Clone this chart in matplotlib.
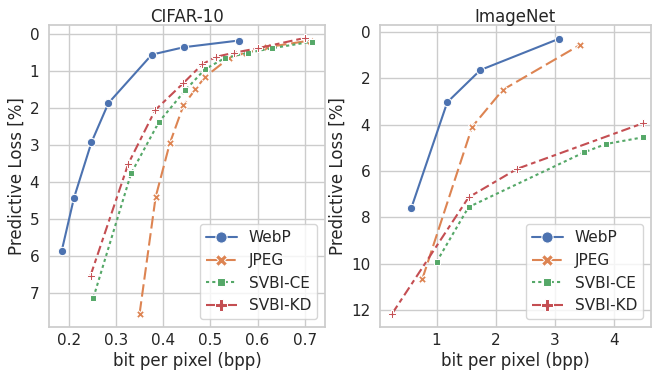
import numpy as np
import matplotlib
matplotlib.use("Agg")
import matplotlib.pyplot as plt
import seaborn as sns

sns.set_theme(style="whitegrid")
plt.rcParams.update({
    "xtick.major.size": 0, "xtick.major.pad": 4,
    "ytick.major.size": 0, "ytick.major.pad": 7,
})

methods = ["WebP", "JPEG", "SVBI-CE", "SVBI-KD"]

# CIFAR-10: bpp and predictive loss [%]
cifar_bpp = {
    "WebP": [0.185, 0.211, 0.248, 0.284, 0.376, 0.444, 0.560],
    "JPEG": [0.350, 0.384, 0.414, 0.443, 0.468, 0.489, 0.539, 0.575, 0.620, 0.711],
    "SVBI-CE": [0.252, 0.332, 0.391, 0.447, 0.489, 0.530, 0.580, 0.630, 0.715],
    "SVBI-KD": [0.246, 0.326, 0.383, 0.442, 0.483, 0.512, 0.550, 0.600, 0.700],
}
cifar_loss = {
    "WebP": [5.85, 4.42, 2.92, 1.86, 0.55, 0.35, 0.17],
    "JPEG": [7.55, 4.40, 2.95, 1.92, 1.49, 1.15, 0.65, 0.50, 0.35, 0.17],
    "SVBI-CE": [7.12, 3.76, 2.37, 1.51, 0.94, 0.65, 0.50, 0.38, 0.20],
    "SVBI-KD": [6.52, 3.50, 2.05, 1.33, 0.81, 0.61, 0.50, 0.38, 0.10],
}

# ImageNet: bpp and predictive loss [%]
imnet_bpp = {
    "WebP": [0.57, 1.18, 1.74, 3.07],
    "JPEG": [0.76, 1.60, 2.12, 3.42],
    "SVBI-CE": [1.00, 1.54, 3.49, 3.86, 4.49],
    "SVBI-KD": [0.25, 1.54, 2.36, 4.48],
}
imnet_loss = {
    "WebP": [7.62, 3.04, 1.65, 0.30],
    "JPEG": [10.65, 4.10, 2.50, 0.57],
    "SVBI-CE": [9.92, 7.56, 5.20, 4.84, 4.55],
    "SVBI-KD": [12.15, 7.14, 5.91, 3.95],
}

colors = sns.color_palette("deep")[:4]
markers = ["o", "X", (4, 0, 45), "P"]
dashes = [(None, None), (4, 1.5), (1, 1), (3, 1.25, 1.5, 1.25)]

fig = plt.figure(figsize=(6.52, 3.75), dpi=100)
ax1 = fig.add_axes([49 / 652, 48 / 375, 276 / 652, 302 / 375])
ax2 = fig.add_axes([380 / 652, 48 / 375, 271 / 652, 302 / 375])


def draw(ax, bpp, loss, title):
    for m, c, mk, d in zip(methods, colors, markers, dashes):
        line, = ax.plot(bpp[m], loss[m], color=c, marker=mk, markersize=6,
                        markeredgecolor="w", markeredgewidth=0.75,
                        linewidth=1.5, label=m)
        if d[0] is not None:
            line.set_dashes([v * 1.5 for v in d])
    ax.set_title(title, pad=2)
    ax.set_xlabel("bit per pixel (bpp)", labelpad=3)
    ax.set_ylabel("Predictive Loss [%]", labelpad=3)
    ax.legend(loc="lower right", markerscale=1.35)


draw(ax1, cifar_bpp, cifar_loss, "CIFAR-10")
ax1.set_xlim(0.158, 0.743)
ax1.set_ylim(7.91, -0.25)
ax1.set_xticks([0.2, 0.3, 0.4, 0.5, 0.6, 0.7])
ax1.set_yticks(range(0, 8))

draw(ax2, imnet_bpp, imnet_loss, "ImageNet")
ax2.set_xlim(0.044, 4.62)
ax2.set_ylim(12.73, -0.29)
ax2.set_xticks([1, 2, 3, 4])
ax2.set_yticks(range(0, 13, 2))

fig.savefig("out.png", dpi=100)
